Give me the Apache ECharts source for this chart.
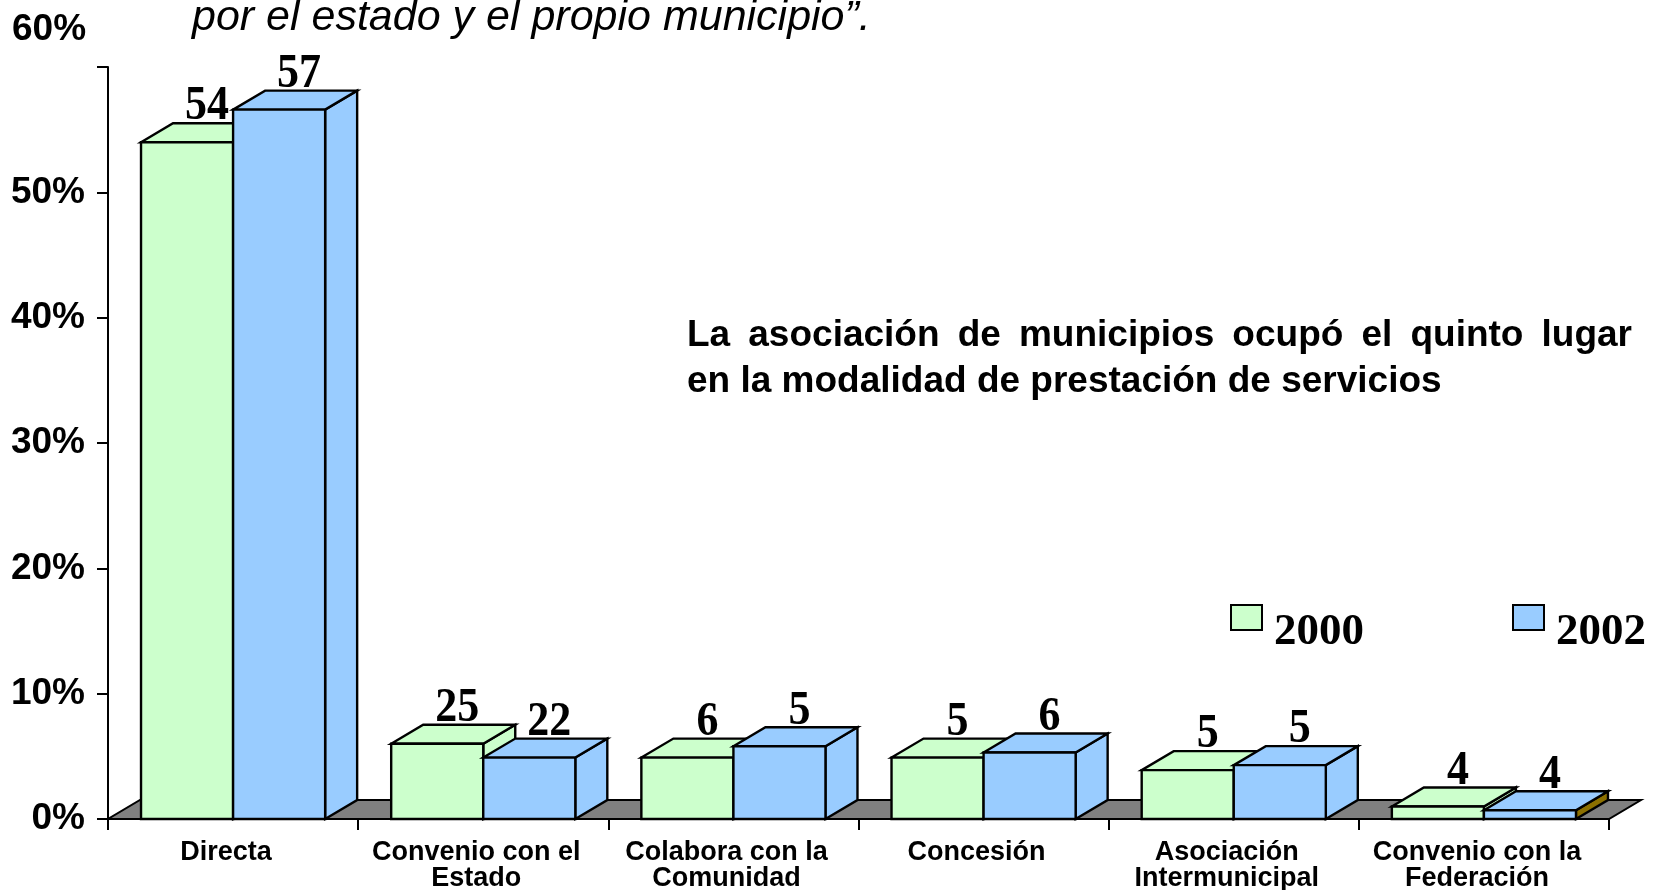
<!DOCTYPE html>
<html>
<head>
<meta charset="utf-8">
<script src="https://cdn.jsdelivr.net/npm/echarts@6/dist/echarts.min.js"></script>
<style>
  html, body { margin: 0; padding: 0; background: #fff; }
  #main { width: 1665px; height: 890px; }
</style>
</head>
<body>
<div id="main"></div>
<script>
// datos
var categories = ['Directa', 'Convenio con el\nEstado', 'Colabora con la\nComunidad', 'Concesión', 'Asociación\nIntermunicipal', 'Convenio con la\nFederación'];
var years = ['2000', '2002'];
// altura de las barras (%)
var values2000 = [54.0, 6.0, 4.9, 4.9, 3.9, 1.0];
var values2002 = [56.6, 4.9, 5.8, 5.3, 4.3, 0.7];
// etiquetas escritas sobre las barras
var labels2000 = ['54', '25', '6', '5', '5', '4'];
var labels2002 = ['57', '22', '5', '6', '5', '4'];
var yMin = 0, yMax = 60, yStep = 10;

var titleText = 'por el estado y el propio municipio”.';
var noteLine1 = 'La asociación de municipios ocupó el quinto lugar';
var noteLine2 = 'en la modalidad de prestación de servicios';

var GAP = 0.264;
var DX = 32, DY = 19;
var GREEN = '#CCFFCC', BLUE = '#99CCFF', FLOOR = '#808080';
var sideOverride = { 1: { 5: '#8c7000' } }; // cara lateral oscura en la ultima barra

var chart = echarts.init(document.getElementById('main'));

function barRender(idx, labels) {
  return function (params, api) {
    var i = api.value(0);
    var v = api.value(1);
    var base = api.coord([i, 0]);
    var top = api.coord([i, v]);
    var band = api.size([1, 0])[0];
    var w = band * (1 - GAP) / 2;
    var x0 = base[0] - w + idx * w;
    var x1 = x0 + w;
    var yb = base[1], yt = top[1];
    var color = api.visual('color');
    var side = (sideOverride[idx] && sideOverride[idx][i]) || color;
    var st = { stroke: '#000', lineWidth: 2.4, lineJoin: 'miter' };
    var lx = (x0 + x1) / 2 + DX / 2 + 4;
    var ly = yt - DY + 8;
    return {
      type: 'group',
      children: [
        { type: 'polygon', shape: { points: [[x1, yb], [x1 + DX, yb - DY], [x1 + DX, yt - DY], [x1, yt]] },
          style: Object.assign({ fill: side }, st) },
        { type: 'polygon', shape: { points: [[x0, yt], [x1, yt], [x1 + DX, yt - DY], [x0 + DX, yt - DY]] },
          style: Object.assign({ fill: color }, st) },
        { type: 'rect', shape: { x: x0, y: yt, width: w, height: yb - yt },
          style: Object.assign({ fill: color }, st) },
        { type: 'text', z2: 100, x: lx, y: ly, scaleY: 1.1,
          style: { text: labels[i], x: 0, y: 0,
            align: 'center', verticalAlign: 'bottom',
            font: 'bold 44px "Liberation Serif"', fill: '#000' } }
      ]
    };
  };
}

function floorRender(params, api) {
  var n = categories.length;
  var band = api.size([1, 0])[0];
  var a = api.coord([0, 0]);
  var b = api.coord([n - 1, 0]);
  var xl = a[0] - band / 2, xr = b[0] + band / 2, y = a[1];
  return {
    type: 'polygon',
    shape: { points: [[xl, y], [xr, y], [xr + DX, y - DY], [xl + DX, y - DY]] },
    style: { fill: FLOOR, stroke: '#000', lineWidth: 2 }
  };
}

// texto justificado de la nota
var meas = document.createElement('canvas').getContext('2d');
var noteFont = 'bold 37px "Liberation Sans"';
meas.font = noteFont;
var noteLeft = 687, noteRight = 1632;
var words = noteLine1.split(' ');
var wsum = 0;
words.forEach(function (w) { wsum += meas.measureText(w).width; });
var space = (noteRight - noteLeft - wsum) / (words.length - 1);
var noteEls = [];
var cx = noteLeft;
words.forEach(function (w) {
  noteEls.push({ type: 'text', left: cx, top: 317, style: { text: w, font: noteFont, fill: '#000' } });
  cx += meas.measureText(w).width + space;
});
noteEls.push({ type: 'text', left: noteLeft, top: 363, style: { text: noteLine2, font: noteFont, fill: '#000' } });

var option = {
  animation: false,
  backgroundColor: '#fff',
  grid: { left: 108, right: 56, top: 67, bottom: 71, containLabel: false, outerBoundsMode: 'none' },
  legend: {
    data: years,
    left: 1225, top: 599,
    icon: 'rect', itemWidth: 31, itemHeight: 25, itemGap: 148,
    itemStyle: { borderColor: '#000', borderWidth: 2 },
    formatter: '{a|{name}}',
    textStyle: {
      rich: { a: { fontFamily: 'Liberation Serif', fontWeight: 'bold', fontSize: 45, color: '#000', padding: [30, 0, 0, 7] } }
    }
  },
  xAxis: {
    type: 'category',
    data: categories,
    boundaryGap: true,
    axisLine: { lineStyle: { color: '#000', width: 2 } },
    axisTick: { show: true, length: 11, interval: 0, lineStyle: { color: '#000', width: 2 } },
    axisLabel: { interval: 0, margin: 21, color: '#000', fontFamily: 'Liberation Sans', fontWeight: 'bold',
      fontSize: 27, lineHeight: 26, padding: [0, 14, 0, 0] },
    splitLine: { show: false }
  },
  yAxis: {
    type: 'value',
    min: yMin, max: yMax, interval: yStep,
    axisLine: { show: true, lineStyle: { color: '#000', width: 2 } },
    axisTick: { show: true, length: 11, lineStyle: { color: '#000', width: 2 } },
    axisLabel: { margin: 23, color: '#000', fontFamily: 'Liberation Sans', fontWeight: 'bold', fontSize: 37,
      formatter: function (v) { return v === yMax ? '' : v + '%'; } },
    splitLine: { show: false }
  },
  graphic: [
    { type: 'text', left: 12, top: 11, style: { text: yMax + '%', font: 'bold 37px "Liberation Sans"', fill: '#000' } },
    { type: 'text', left: 192, top: -3, style: { text: titleText, font: 'italic 43px "Liberation Sans"', fill: '#000' } }
  ].concat(noteEls),
  series: [
    { type: 'custom', name: 'piso', renderItem: floorRender, data: [[0, 0]], silent: true },
    { type: 'custom', name: years[0], itemStyle: { color: GREEN, borderColor: '#000', borderWidth: 2 },
      renderItem: barRender(0, labels2000), data: values2000.map(function (v, i) { return [i, v]; }) },
    { type: 'custom', name: years[1], itemStyle: { color: BLUE, borderColor: '#000', borderWidth: 2 },
      renderItem: barRender(1, labels2002), data: values2002.map(function (v, i) { return [i, v]; }) }
  ]
};
chart.setOption(option);
</script>
</body>
</html>
